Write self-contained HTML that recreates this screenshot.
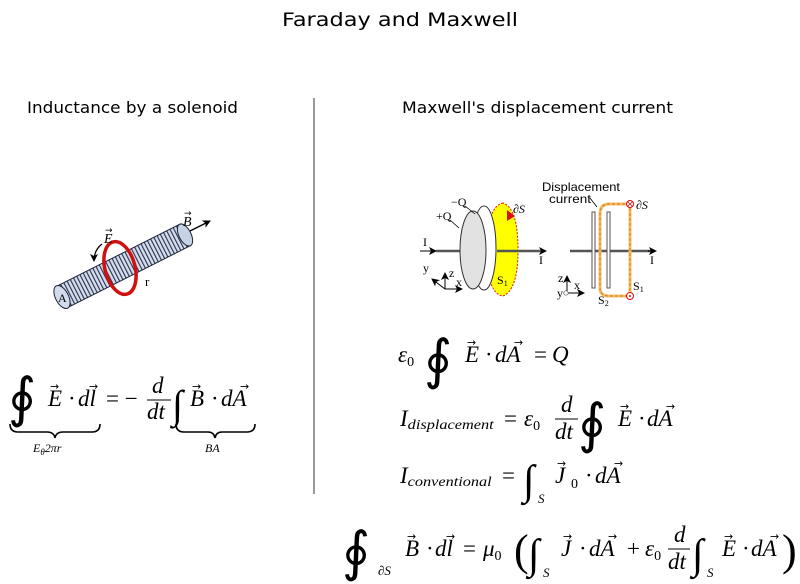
<!DOCTYPE html>
<html><head><meta charset="utf-8"><style>
html,body{margin:0;padding:0;background:#fff}
svg{display:block}
.m{font-family:"Liberation Serif",serif;font-style:italic;font-size:23px;fill:#000}
.r{font-family:"Liberation Serif",serif;font-size:23px;fill:#000}
.big{font-family:"DejaVu Sans",sans-serif;font-size:54px;fill:#000}
.h{font-family:"DejaVu Sans",sans-serif;font-size:16px;fill:#000}
.s{font-family:"Liberation Serif",serif;font-size:12px;fill:#000}
.ss{font-family:"Liberation Sans",sans-serif;font-size:12px;fill:#000}
.sub{font-family:"Liberation Serif",serif;font-style:italic;font-size:14px;fill:#000}
.va{font-family:"DejaVu Sans",sans-serif;font-size:11px;fill:#000}
</style></head><body>
<svg width="800" height="584" viewBox="0 0 800 584" xmlns="http://www.w3.org/2000/svg">
<defs>
<marker id="ah" markerWidth="8" markerHeight="8" refX="7" refY="4" orient="auto" markerUnits="userSpaceOnUse"><path d="M0,0 L8,4 L0,8 L2,4 Z" fill="#000"/></marker>
<pattern id="coil" width="3.6" height="20" patternUnits="userSpaceOnUse" patternTransform="rotate(-27)">
<rect width="3.6" height="20" fill="#d3dcef"/><rect width="1.1" height="20" fill="#2a3148"/></pattern>
</defs>
<text x="400" y="26" text-anchor="middle" class="h" style="font-size:19px" textLength="236" lengthAdjust="spacingAndGlyphs">Faraday and Maxwell</text>
<text x="27" y="113" class="h" textLength="211" lengthAdjust="spacingAndGlyphs">Inductance by a solenoid</text>
<text x="402" y="113" class="h" textLength="271" lengthAdjust="spacingAndGlyphs">Maxwell's displacement current</text>
<line x1="314" y1="98" x2="314" y2="494" stroke="#777" stroke-width="1.5"/>

<!-- solenoid -->
<g>
<path d="M56.6,286.3 L179.6,224.3 L190.4,245.7 L67.4,307.7 Z" fill="url(#coil)" stroke="#1d2438" stroke-width="1"/>
<ellipse cx="185" cy="235" rx="6" ry="12" transform="rotate(-27 185 235)" fill="#c8d2e6" stroke="#1d2438"/>
<ellipse cx="62" cy="297" rx="6.5" ry="12.5" transform="rotate(-27 62 297)" fill="#d3dcef" stroke="#1d2438"/>
<text x="58" y="302" class="s" style="font-size:12px">A</text>
<ellipse cx="120" cy="268" rx="15" ry="27" transform="rotate(-15 120 268)" fill="none" stroke="#d01010" stroke-width="3.5"/>
<text x="145" y="286" class="s" style="font-size:13px">r</text>
<path d="M190,231 L210,221" stroke="#000" stroke-width="1.3" marker-end="url(#ah)"/>
<text x="183" y="226" class="m" style="font-size:14px">B</text><text x="184" y="216" class="va" style="font-size:9px">→</text>
<path d="M102,244 Q94,250 94,261" stroke="#000" stroke-width="1.3" fill="none" marker-end="url(#ah)"/>
<text x="104" y="243" class="m" style="font-size:14px">E</text><text x="105" y="233" class="va" style="font-size:9px">→</text>
</g>

<!-- left equation -->
<text x="8" y="416" class="big">∮</text>
<text x="48" y="406" class="m">E</text><text x="50" y="390" class="va">→</text>
<text x="68" y="406" class="r">·</text>
<text x="78" y="406" class="m">dl</text><text x="89" y="390" class="va">→</text>
<text x="106" y="406" class="r">= −</text>
<text x="152" y="393" class="m">d</text>
<line x1="147" y1="400" x2="171" y2="400" stroke="#000" stroke-width="1"/>
<text x="147" y="419" class="m">dt</text>
<text x="172" y="418" class="r" style="font-size:40px">∫</text>
<text x="190" y="406" class="m">B</text><text x="192" y="390" class="va">→</text>
<text x="211" y="406" class="r">·</text>
<text x="221" y="406" class="m">dA</text><text x="240" y="390" class="va">→</text>
<path d="M10,424 Q10,432 18,432 L47,432 Q54,432 55,438 Q56,432 63,432 L92,432 Q100,432 100,424" fill="none" stroke="#000" stroke-width="1.6"/>
<text x="33" y="452" class="sub" style="font-size:12px">E<tspan font-size="9" dy="3">θ</tspan><tspan dy="-3">2πr</tspan></text>
<path d="M176,424 Q176,432 184,432 L208,432 Q214,432 215,438 Q216,432 222,432 L247,432 Q255,432 255,424" fill="none" stroke="#000" stroke-width="1.6"/>
<text x="205" y="452" class="sub" style="font-size:12px">BA</text>

<!-- capacitor diagram left -->
<g>
<path d="M420,251 L436,251" stroke="#000" stroke-width="1" marker-end="url(#ah)"/>
<text x="423" y="246" class="s">I</text>
<line x1="436" y1="251" x2="473" y2="251" stroke="#555" stroke-width="2.5"/>
<path d="M503,203 Q487,206 487,250 Q487,294 503,296 Q518,290 518,250 Q518,208 503,203 Z" fill="#ffff00" stroke="#e01010" stroke-width="1" stroke-dasharray="2,1.5"/>
<path d="M507,210 L515,216 L507,221 Z" fill="#e01010"/>
<ellipse cx="484" cy="248" rx="12" ry="42" fill="#fff" stroke="#333" stroke-width="1"/>
<ellipse cx="473" cy="250" rx="13" ry="39" fill="#e2e2e2" stroke="#333" stroke-width="1"/>
<line x1="497" y1="251" x2="540" y2="251" stroke="#555" stroke-width="2.5"/>
<path d="M540,251 L546,251" stroke="#000" stroke-width="1" marker-end="url(#ah)"/>
<text x="539" y="264" class="s">I</text>
<text x="436" y="220" class="s">+Q</text>
<path d="M450,220 L459,228" stroke="#000" stroke-width="0.8"/>
<text x="451" y="206" class="s">−Q</text>
<path d="M465,206 L475,214" stroke="#000" stroke-width="0.8"/>
<text x="513" y="213" class="s" style="font-style:italic">∂S</text>
<text x="497" y="284" class="s">S<tspan font-size="8" dy="2">1</tspan></text>
<path d="M445,289 L445,273" stroke="#000" stroke-width="1" marker-end="url(#ah)"/>
<path d="M445,289 L462,289" stroke="#000" stroke-width="1" marker-end="url(#ah)"/>
<path d="M445,289 L432,279" stroke="#000" stroke-width="1" marker-end="url(#ah)"/>
<text x="449" y="277" class="s">z</text><text x="456" y="286" class="s">x</text><text x="423" y="272" class="s">y</text>
</g>
<!-- capacitor diagram right -->
<g>
<line x1="570" y1="251" x2="652" y2="251" stroke="#555" stroke-width="2.5"/>
<path d="M648,251 L656,251" stroke="#000" stroke-width="1" marker-end="url(#ah)"/>
<text x="650" y="264" class="s">I</text>
<rect x="592" y="212" width="3" height="76" fill="#fff" stroke="#555" stroke-width="1"/>
<rect x="607" y="212" width="3" height="76" fill="#fff" stroke="#555" stroke-width="1"/>
<path d="M630,204 L609,204 Q600,204 600,214 L600,288 Q600,296 609,296 L630,296 Z" fill="none" stroke="#f2c060" stroke-width="3"/>
<path d="M630,204 L609,204 Q600,204 600,214 L600,288 Q600,296 609,296 L630,296 Z" fill="none" stroke="#e07020" stroke-width="1" stroke-dasharray="3,2"/>
<circle cx="630" cy="204" r="3.5" fill="#fff" stroke="#e01010"/><path d="M627.5,201.5 L632.5,206.5 M632.5,201.5 L627.5,206.5" stroke="#e01010" stroke-width="0.8"/>
<circle cx="630" cy="296" r="3.5" fill="#fff" stroke="#e01010"/><circle cx="630" cy="296" r="1" fill="#e01010"/>
<text x="636" y="209" class="s" style="font-style:italic">∂S</text>
<text x="542" y="191" class="ss" textLength="78" lengthAdjust="spacingAndGlyphs">Displacement</text>
<text x="549" y="203" class="ss" textLength="42" lengthAdjust="spacingAndGlyphs">current</text>
<path d="M590,198 L597,207" stroke="#000" stroke-width="0.8"/>
<text x="633" y="290" class="s">S<tspan font-size="8" dy="2">1</tspan></text>
<text x="598" y="304" class="s">S<tspan font-size="8" dy="2">2</tspan></text>
<path d="M567,293 L567,276" stroke="#000" stroke-width="1" marker-end="url(#ah)"/>
<path d="M567,293 L584,293" stroke="#000" stroke-width="1" marker-end="url(#ah)"/>
<circle cx="566" cy="293" r="2.2" fill="#fff" stroke="#555" stroke-width="0.7"/>
<text x="558" y="282" class="s">z</text><text x="574" y="289" class="s">x</text><text x="557" y="297" class="s">y</text>
</g>

<!-- eq1 -->
<text x="398" y="362" class="m">ε<tspan font-size="14" dy="4" font-style="normal">0</tspan></text>
<text x="424" y="378" class="big">∮</text>
<text x="465" y="362" class="m">E</text><text x="467" y="346" class="va">→</text>
<text x="485" y="362" class="r">·</text>
<text x="495" y="362" class="m">dA</text><text x="514" y="346" class="va">→</text>
<text x="534" y="362" class="r">=</text><text x="552" y="362" class="m">Q</text>

<!-- eq2 -->
<text x="400" y="426" class="m">I<tspan class="sub" font-size="14" dy="3" textLength="86" lengthAdjust="spacingAndGlyphs">displacement</tspan></text>
<text x="504" y="426" class="r">=</text>
<text x="524" y="426" class="m">ε<tspan font-size="14" dy="4" font-style="normal">0</tspan></text>
<text x="561" y="412" class="m">d</text>
<line x1="555" y1="419" x2="578" y2="419" stroke="#000" stroke-width="1"/>
<text x="555" y="439" class="m">dt</text>
<text x="578" y="442" class="big">∮</text>
<text x="618" y="426" class="m">E</text><text x="620" y="410" class="va">→</text>
<text x="638" y="426" class="r">·</text>
<text x="647" y="426" class="m">dA</text><text x="666" y="410" class="va">→</text>

<!-- eq3 -->
<text x="400" y="483" class="m">I<tspan class="sub" font-size="14" dy="3" textLength="84" lengthAdjust="spacingAndGlyphs">conventional</tspan></text>
<text x="502" y="483" class="r">=</text>
<text x="523" y="494" class="r" style="font-size:42px">∫</text>
<text x="538" y="503" class="sub" style="font-size:13px">S</text>
<text x="555" y="483" class="m">J</text><text x="557" y="467" class="va">→</text>
<text x="571" y="488" class="r" style="font-size:14px">0</text>
<text x="585" y="483" class="r">·</text>
<text x="595" y="483" class="m">dA</text><text x="614" y="467" class="va">→</text>

<!-- eq4 -->
<text x="342" y="570" class="big">∮</text>
<text x="378" y="575" class="sub" style="font-size:13px">∂S</text>
<text x="405" y="556" class="m">B</text><text x="407" y="540" class="va">→</text>
<text x="426" y="556" class="r">·</text>
<text x="435" y="556" class="m">dl</text><text x="446" y="540" class="va">→</text>
<text x="463" y="556" class="r">=</text>
<text x="483" y="556" class="m">μ<tspan font-size="14" dy="4" font-style="normal">0</tspan></text>
<text x="514" y="565" class="r" style="font-size:44px">(</text>
<text x="528" y="568" class="r" style="font-size:42px">∫</text>
<text x="543" y="577" class="sub" style="font-size:13px">S</text>
<text x="561" y="556" class="m">J</text><text x="563" y="540" class="va">→</text>
<text x="579" y="556" class="r">·</text>
<text x="589" y="556" class="m">dA</text><text x="608" y="540" class="va">→</text>
<text x="627" y="556" class="r">+</text>
<text x="645" y="556" class="m">ε<tspan font-size="14" dy="4" font-style="normal">0</tspan></text>
<text x="674" y="542" class="m">d</text>
<line x1="668" y1="549" x2="690" y2="549" stroke="#000" stroke-width="1"/>
<text x="668" y="569" class="m">dt</text>
<text x="692" y="568" class="r" style="font-size:42px">∫</text>
<text x="707" y="577" class="sub" style="font-size:13px">S</text>
<text x="722" y="556" class="m">E</text><text x="724" y="540" class="va">→</text>
<text x="742" y="556" class="r">·</text>
<text x="751" y="556" class="m">dA</text><text x="770" y="540" class="va">→</text>
<text x="782" y="565" class="r" style="font-size:44px">)</text>
</svg>
</body></html>
